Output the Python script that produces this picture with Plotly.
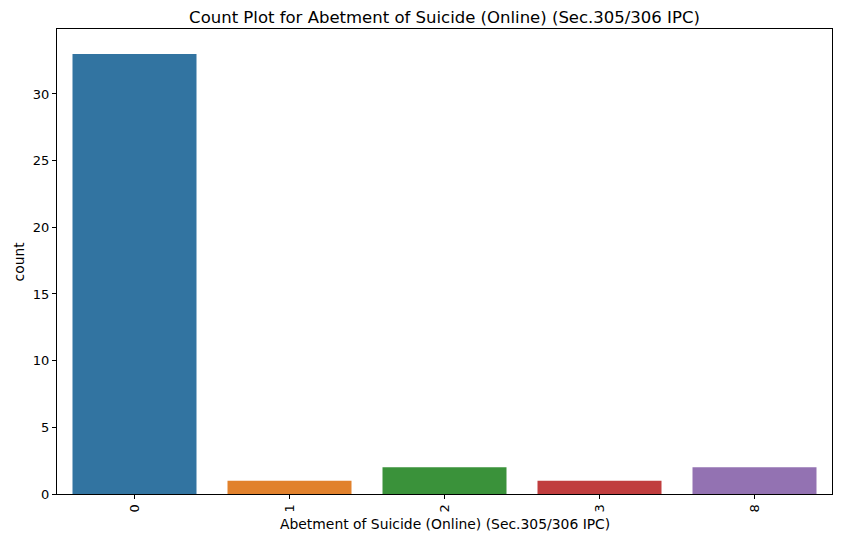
import plotly.graph_objects as go

categories = ["0", "1", "2", "3", "8"]
counts = [33, 1, 2, 1, 2]
colors = ["#3274a1", "#e1812c", "#3a923a", "#c03d3e", "#9372b2"]

# page body has an 8px margin, so the figure is shrunk by that much
fig = go.Figure()
fig.add_trace(go.Bar(x=categories, y=counts, marker_color=colors,
                     marker_line_width=0, width=0.8))

fig.update_layout(
    width=833, height=534,
    margin=dict(l=49, r=9, t=21, b=48, autoexpand=False),
    plot_bgcolor="white", paper_bgcolor="white",
    font=dict(family="DejaVu Sans", size=13, color="black"),
    title=dict(text="Count Plot for Abetment of Suicide (Online) (Sec.305/306 IPC)",
               x=0.5, xanchor="center", xref="paper", y=1 - 9 / 534, yanchor="middle",
               font=dict(size=16.5)),
    showlegend=False,
    bargap=0.2,
)
fig.add_annotation(text="Abetment of Suicide (Online) (Sec.305/306 IPC)",
                   xref="paper", yref="paper", x=0.5, y=-30 / 465,
                   xanchor="center", yanchor="middle", showarrow=False,
                   font=dict(size=13.9))
fig.add_annotation(text="count", textangle=-90,
                   xref="paper", yref="paper", x=-39 / 775, y=0.5,
                   xanchor="center", yanchor="middle", showarrow=False,
                   font=dict(size=13.9))
fig.update_xaxes(
    type="category", automargin=False,
    tickangle=-90, ticks="outside", ticklen=4, tickcolor="black",
    showline=True, linecolor="black", linewidth=1, mirror=True, showgrid=False,
    tickfont=dict(size=13),
)
fig.update_yaxes(
    range=[0, 34.87], automargin=False,
    tickvals=[0, 5, 10, 15, 20, 25, 30], ticks="outside", ticklen=4, tickcolor="black",
    showline=True, linecolor="black", linewidth=1, mirror=True, showgrid=False, zeroline=False,
    tickfont=dict(size=13),
)

fig.write_html("out.html")
